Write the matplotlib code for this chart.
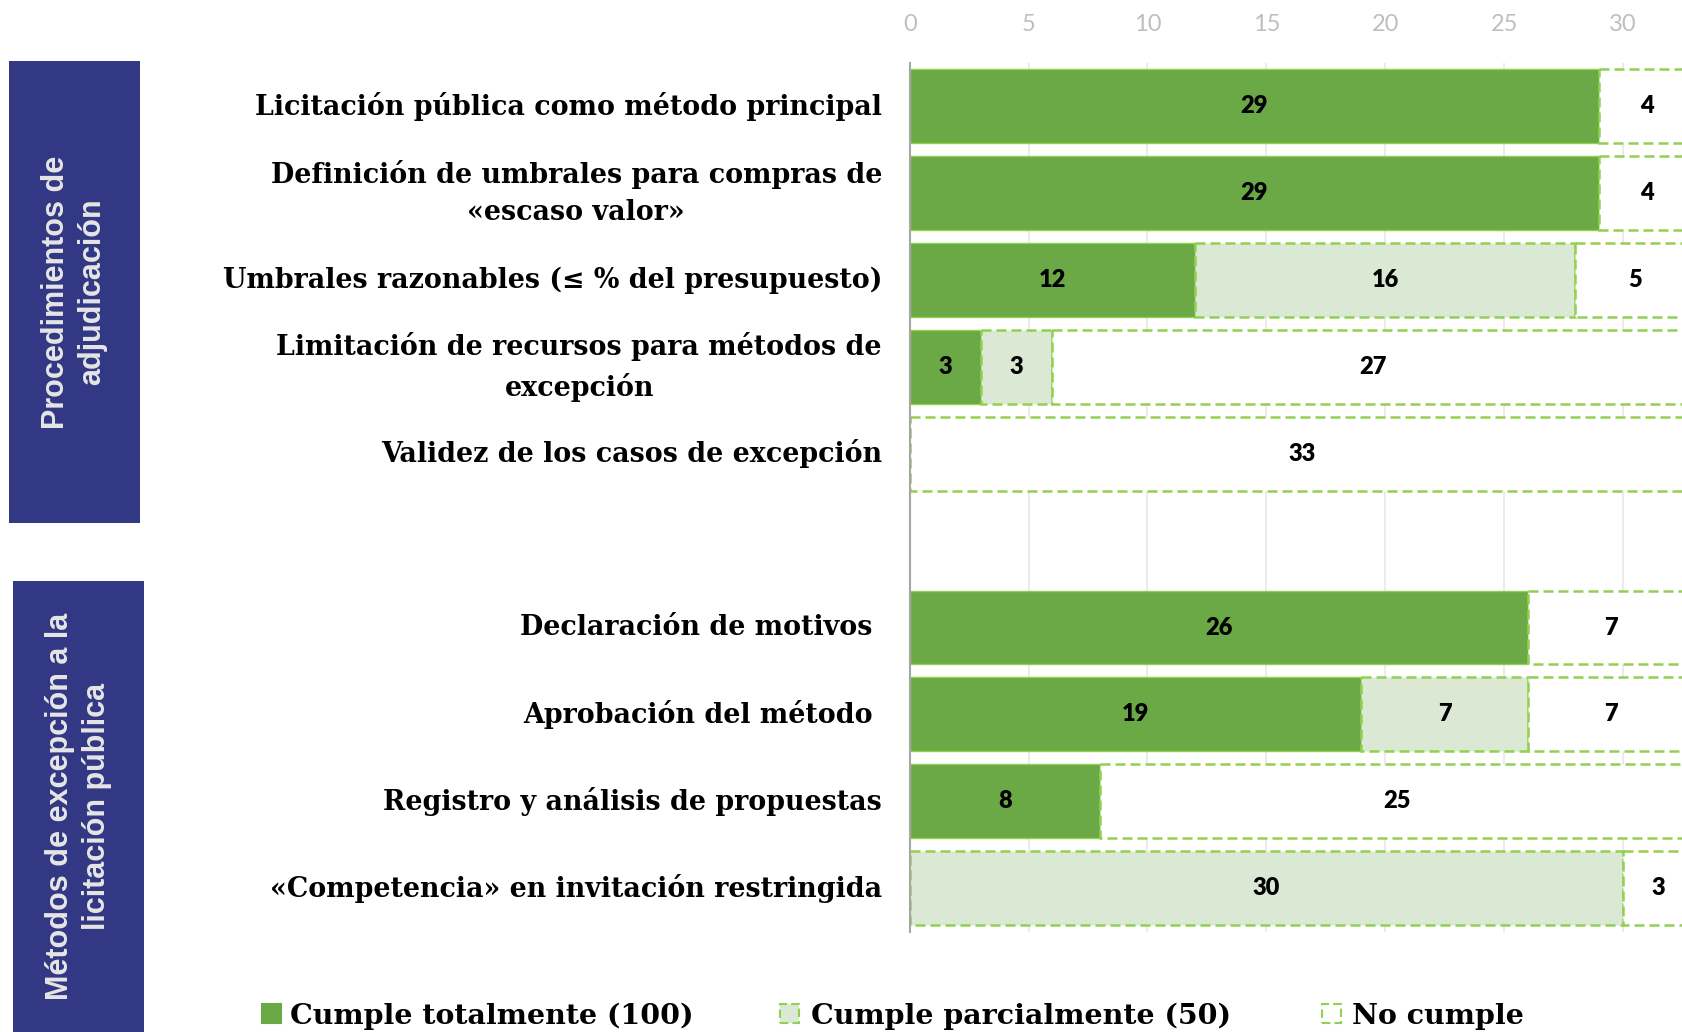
import matplotlib
matplotlib.use("Agg")
import matplotlib.pyplot as plt
from matplotlib.patches import Rectangle

# ---- data ----
categories = [
    "Licitación pública como método principal",
    "Definición de umbrales para compras de\n«escaso valor»",
    "Umbrales razonables (≤ % del presupuesto)",
    "Limitación de recursos para métodos de\nexcepción",
    "Validez de los casos de excepción",
    "",
    "Declaración de motivos ",
    "Aprobación del método ",
    "Registro y análisis de propuestas",
    "«Competencia» en invitación restringida",
]
cumple_total = [29, 29, 12, 3, 0, 0, 26, 19, 8, 0]
cumple_parcial = [0, 0, 16, 3, 0, 0, 0, 7, 0, 30]
no_cumple = [4, 4, 5, 27, 33, 0, 7, 7, 25, 3]
series_names = ["Cumple totalmente (100)", "Cumple parcialmente (50)", "No cumple"]
group_names = ["Procedimientos de\nadjudicación", "Métodos de excepción a la\nlicitación pública"]
xticks = [0, 5, 10, 15, 20, 25, 30]

# ---- styles ----
C_FULL = "#6aa946"
C_PART = "#dbe9d4"
C_NONE = "#ffffff"
C_EDGE = "#92d050"
NAVY = "#323884"
SERIF = ["DejaVu Serif", "Liberation Serif"]
NUMFONT = ["Lato", "DejaVu Sans"]

W, H = 1682, 1032
fig = plt.figure(figsize=(W / 100, H / 100), dpi=100)

ax = fig.add_axes([909.7 / W, 1 - 931.6 / H, 1 - 909.7 / W, (931.6 - 62.75) / H])
ax.set_xlim(0, 32.48)
ax.set_ylim(9.5, -0.5)

ypos = list(range(len(categories)))
bh = 0.85
series = [cumple_total, cumple_parcial, no_cumple]
fills = [C_FULL, C_PART, C_NONE]
styles = ["solid", (0, (4, 2)), (0, (4, 2))]
lws = [1.0, 1.8, 1.8]

left = [0] * len(categories)
for vals, fc, ls, lw in zip(series, fills, styles, lws):
    for i, v in enumerate(vals):
        if v <= 0:
            continue
        ax.barh(ypos[i], v, left=left[i], height=bh, color=fc,
                edgecolor=C_EDGE, linestyle=ls, linewidth=lw, zorder=3)
        ax.text(left[i] + v / 2, ypos[i], str(v), ha="center", va="center",
                fontsize=17, fontweight="heavy", family=NUMFONT,
                color="black", zorder=4)
    left = [l + v for l, v in zip(left, vals)]

# axes styling
ax.set_xticks(xticks)
ax.xaxis.tick_top()
ax.tick_params(axis="x", top=True, labeltop=True, bottom=False, labelbottom=False,
               length=0, pad=20, labelsize=17, labelcolor="#bfbfbf")
for lab in ax.get_xticklabels():
    lab.set_family(["Lato", "DejaVu Sans"])
ax.grid(axis="x", color="#e8e8e8", linewidth=1.2, zorder=0)
ax.set_axisbelow(True)
for s in ["top", "right", "bottom"]:
    ax.spines[s].set_visible(False)
ax.spines["left"].set_color("#a6a6a6")
ax.spines["left"].set_linewidth(1.5)
ax.spines["left"].set_zorder(5)

ax.set_yticks(ypos)
ax.set_yticklabels(categories)
ax.tick_params(axis="y", length=0, pad=20)
for lab in ax.get_yticklabels():
    lab.set_family(SERIF)
    lab.set_fontweight("bold")
    lab.set_fontsize(19.4)
    lab.set_multialignment("center")
    lab.set_linespacing(1.5)
    lab.set_verticalalignment("center")

# group boxes
boxes = [
    (8.6, 61, 139.5, 523),
    (12.9, 581, 143.7, 1040),
]
for (x0, y0, x1, y1), name in zip(boxes, group_names):
    fig.patches.append(Rectangle((x0 / W, 1 - y1 / H), (x1 - x0) / W, (y1 - y0) / H,
                                 transform=fig.transFigure, facecolor=NAVY,
                                 edgecolor="none", zorder=1))
    cy = (y0 + min(y1, H)) / 2
    fig.text((x0 + x1) / 2 / W, 1 - cy / H, name, rotation=90, ha="center", va="center",
             fontsize=22, fontweight="bold", color="#e6e6e6",
             family=["Liberation Sans", "DejaVu Sans"], linespacing=1.3, zorder=2)

# legend (manual)
leg_marker_x = [262, 780, 1322]
leg_text_x = [290, 811, 1352]
for mx, tx, name, fc, ls in zip(leg_marker_x, leg_text_x, series_names, fills, styles):
    fig.patches.append(Rectangle((mx / W, 1 - 1023 / H), 19 / W, 19 / H,
                                 transform=fig.transFigure, facecolor=fc,
                                 edgecolor=C_EDGE if fc != C_FULL else C_FULL,
                                 linestyle=ls, linewidth=1.5))
    fig.text(tx / W, 1 - 1016 / H, name, ha="left", va="center", fontsize=20.5,
             fontweight="bold", family=SERIF)

fig.savefig("out.png", dpi=100)
